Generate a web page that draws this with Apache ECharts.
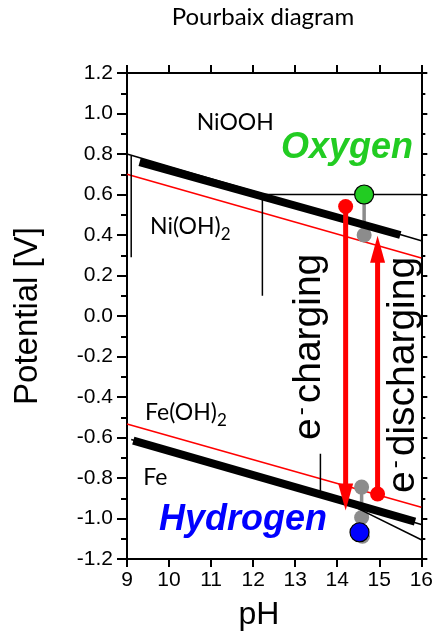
<!DOCTYPE html>
<html>
<head>
<meta charset="utf-8">
<script src="https://cdn.jsdelivr.net/npm/echarts@6/dist/echarts.min.js"></script>
<style>
  html, body { margin: 0; padding: 0; background: #ffffff; }
  #chart { width: 436px; height: 637px; }
</style>
</head>
<body>
<div id="chart"></div>
<script>
// ---- axes ----
const pHTicks = [9, 10, 11, 12, 13, 14, 15, 16];
const potentialTicks = [-1.2, -1.0, -0.8, -0.6, -0.4, -0.2, 0.0, 0.2, 0.4, 0.6, 0.8, 1.0, 1.2];

// ---- nickel boundaries [pH, E / V] ----
const niThick = [[9.3, 0.76], [15.5, 0.40]];
const niThin = [[9.0, 0.80], [16.0, 0.372]];
const niRed = [[9.0, 0.70], [16.0, 0.286]];
const niVerticalLeft = [[9.1, 0.79], [9.1, 0.29]];
const niVerticalMid = [[12.22, 0.60], [12.22, 0.10]];
const niHorizontal = [[12.22, 0.60], [16.0, 0.60]];

// ---- iron boundaries [pH, E / V] ----
const feRed = [[9.0, -0.533], [16.0, -0.944]];
const feThick = [[9.15, -0.615], [15.85, -1.015]];
const feThin = [[9.1, -0.61], [16.0, -1.03]];
const feThinBranch = [[14.2, -0.92], [16.0, -1.105]];
const feVertical = [[13.6, -0.68], [13.6, -0.87]];

// ---- electrode states ----
const oxygenPoint = [[14.64, 0.60]];
const hydrogenPoint = [[14.53, -1.068]];
const oxygenGhostLine = [[14.64, 0.58], [14.64, 0.40]];
const oxygenGhostDots = [[14.64, 0.40]];
const hydrogenGhostLine = [[14.58, -0.845], [14.58, -0.995]];
const hydrogenGhostDots = [[14.58, -0.845], [14.58, -0.995], [14.6, -1.088]];

// ---- charge / discharge arrows: [pH, start E, tip E] ----
const chargeArrow = [14.2, 0.541, -0.961];
const dischargeArrow = [14.96, -0.879, 0.396];
const arrowStarts = [[chargeArrow[0], chargeArrow[1]], [dischargeArrow[0], dischargeArrow[1]]];

const RED = '#ff0000';
const GREEN = '#22cc22';
const BLUE = '#0000ff';
const GREY = '#8c8c8c';
const SANS = '"Liberation Sans", Arial, sans-serif';
const CAL = 'Lato, "Open Sans", sans-serif';

const measureCtx = document.createElement('canvas').getContext('2d');
function textWidth(str, font) { measureCtx.font = font; return measureCtx.measureText(str).width; }

function seg(data, color, width, z) {
  return {
    type: 'line', data: data, symbol: 'none', silent: true, z: z,
    lineStyle: { color: color, width: width, cap: 'butt' },
    animation: false
  };
}

function dots(data, color, size, z, border) {
  return {
    type: 'scatter', data: data, symbol: 'circle', symbolSize: size, silent: true, z: z,
    itemStyle: { color: color, borderColor: border || color, borderWidth: border ? 1.2 : 0, opacity: 1 },
    animation: false
  };
}

function label(x, y, text, font, color, align) {
  return {
    type: 'text', x: x, y: y, silent: true,
    style: { text: text, font: font, fill: color || '#000',
      align: align || 'left', textAlign: align || 'left',
      verticalAlign: 'middle', textVerticalAlign: 'middle' }
  };
}

// chemical formula with a lowered subscript
function formula(x, y, main, sub) {
  const mainFont = '23px ' + CAL;
  const subFont = '17px ' + CAL;
  const w = textWidth(main, mainFont);
  return {
    type: 'group', x: x, y: y, children: [
      label(0, 0, main, mainFont),
      label(w, 8.5, sub, subFont)
    ]
  };
}

// vertical "e⁻ ..." label reading bottom to top
function electronLabel(x, y, word) {
  const big = '39px ' + SANS;
  const we = textWidth('e', big);
  return {
    type: 'group', x: x, y: y, rotation: Math.PI / 2, children: [
      label(0, 0, 'e', big),
      label(we + 3, -8, '-', '24px ' + SANS),
      label(we + 15, 0, word, big)
    ]
  };
}

const axisLineStyle = { color: '#000', width: 2 };

const option = {
  backgroundColor: '#ffffff',
  animation: false,
  grid: { left: 127, right: 13, top: 73, bottom: 78, containLabel: false },
  xAxis: [
    {
      type: 'value', min: pHTicks[0], max: pHTicks[pHTicks.length - 1], interval: 1, position: 'bottom',
      axisLine: { onZero: false, lineStyle: axisLineStyle },
      axisTick: { length: 8, lineStyle: axisLineStyle },
      axisLabel: { color: '#000', fontSize: 21, fontFamily: SANS, margin: 11 },
      splitLine: { show: false }
    },
    {
      type: 'value', min: pHTicks[0], max: pHTicks[pHTicks.length - 1], interval: 1, position: 'top',
      axisLine: { onZero: false, lineStyle: axisLineStyle },
      axisTick: { length: 8, lineStyle: axisLineStyle },
      axisLabel: { show: false },
      splitLine: { show: false }
    }
  ],
  yAxis: [
    {
      type: 'value', min: potentialTicks[0], max: potentialTicks[potentialTicks.length - 1], interval: 0.2, position: 'left',
      axisLine: { onZero: false, lineStyle: axisLineStyle },
      axisTick: { length: 10, lineStyle: axisLineStyle },
      minorTick: { show: true, splitNumber: 2, length: 6, lineStyle: axisLineStyle },
      axisLabel: {
        color: '#000', fontSize: 21, fontFamily: SANS, margin: 14,
        formatter: function (v) { return Math.abs(v) < 1e-9 ? '0.0' : v.toFixed(1); }
      },
      splitLine: { show: false }, minorSplitLine: { show: false }
    },
    {
      type: 'value', min: potentialTicks[0], max: potentialTicks[potentialTicks.length - 1], interval: 0.2, position: 'right',
      axisLine: { onZero: false, lineStyle: axisLineStyle },
      axisTick: { length: 6, lineStyle: axisLineStyle },
      minorTick: { show: true, splitNumber: 2, length: 4, lineStyle: axisLineStyle },
      axisLabel: { show: false },
      splitLine: { show: false }, minorSplitLine: { show: false }
    }
  ],
  series: [
    seg(niRed, RED, 1.6, 2),
    seg(feRed, RED, 1.6, 2),
    seg(oxygenGhostLine, GREY, 3.5, 2),
    seg(hydrogenGhostLine, GREY, 3.5, 2),
    dots(oxygenGhostDots, GREY, 15, 2),
    dots(hydrogenGhostDots, GREY, 15, 2),
    seg(niThin, '#000', 1.5, 3),
    seg(niVerticalLeft, '#000', 1.5, 3),
    seg(niVerticalMid, '#000', 1.5, 3),
    seg(niHorizontal, '#000', 1.5, 3),
    seg(feThin, '#000', 1.5, 3),
    seg(feThinBranch, '#000', 1.5, 3),
    seg(feVertical, '#000', 1.5, 3),
    seg(niThick, '#000', 8, 4),
    seg(feThick, '#000', 8, 4),
    {
      type: 'custom', silent: true, z: 5, animation: false,
      data: [chargeArrow, dischargeArrow],
      encode: { x: 0, y: [1, 2] },
      renderItem: function (params, api) {
        const p0 = api.coord([api.value(0), api.value(1)]);
        const p1 = api.coord([api.value(0), api.value(2)]);
        const dir = p1[1] > p0[1] ? 1 : -1;
        const headLen = 27, headW = 15;
        const base = p1[1] - dir * headLen;
        return {
          type: 'group', children: [
            { type: 'line', shape: { x1: p0[0], y1: p0[1], x2: p1[0], y2: base + dir * 2 },
              style: { stroke: RED, lineWidth: 5 } },
            { type: 'polygon', shape: { points: [[p1[0], p1[1]], [p1[0] - headW / 2, base], [p1[0] + headW / 2, base]] },
              style: { fill: RED } }
          ]
        };
      }
    },
    dots(arrowStarts, RED, 15, 6),
    dots(oxygenPoint, GREEN, 19, 7, '#000'),
    dots(hydrogenPoint, BLUE, 19, 7, '#000')
  ],
  graphic: [
    label(263, 17.5, 'Pourbaix diagram', '24px ' + CAL, '#000', 'center'),
    {
      type: 'text', x: 28, y: 316, rotation: Math.PI / 2, silent: true,
      style: { text: 'Potential [V]', font: '33px ' + SANS, fill: '#000',
        align: 'center', textAlign: 'center', verticalAlign: 'middle', textVerticalAlign: 'middle' }
    },
    label(259, 615, 'pH', '32px ' + SANS, '#000', 'center'),
    label(196.7, 122.4, 'NiOOH', '23px ' + CAL),
    formula(150, 226.4, 'Ni(OH)', '2'),
    formula(145, 412.4, 'Fe(OH)', '2'),
    label(143.3, 478, 'Fe', '23px ' + CAL),
    label(281, 148.2, 'Oxygen', 'italic bold 36px ' + SANS, GREEN),
    label(159, 520.5, 'Hydrogen', 'italic bold 36px ' + SANS, BLUE),
    electronLabel(309.5, 440, 'charging'),
    electronLabel(403, 493, 'discharging')
  ]
};

const chart = echarts.init(document.getElementById('chart'), null, { renderer: 'canvas' });
chart.setOption(option);
</script>
</body>
</html>
